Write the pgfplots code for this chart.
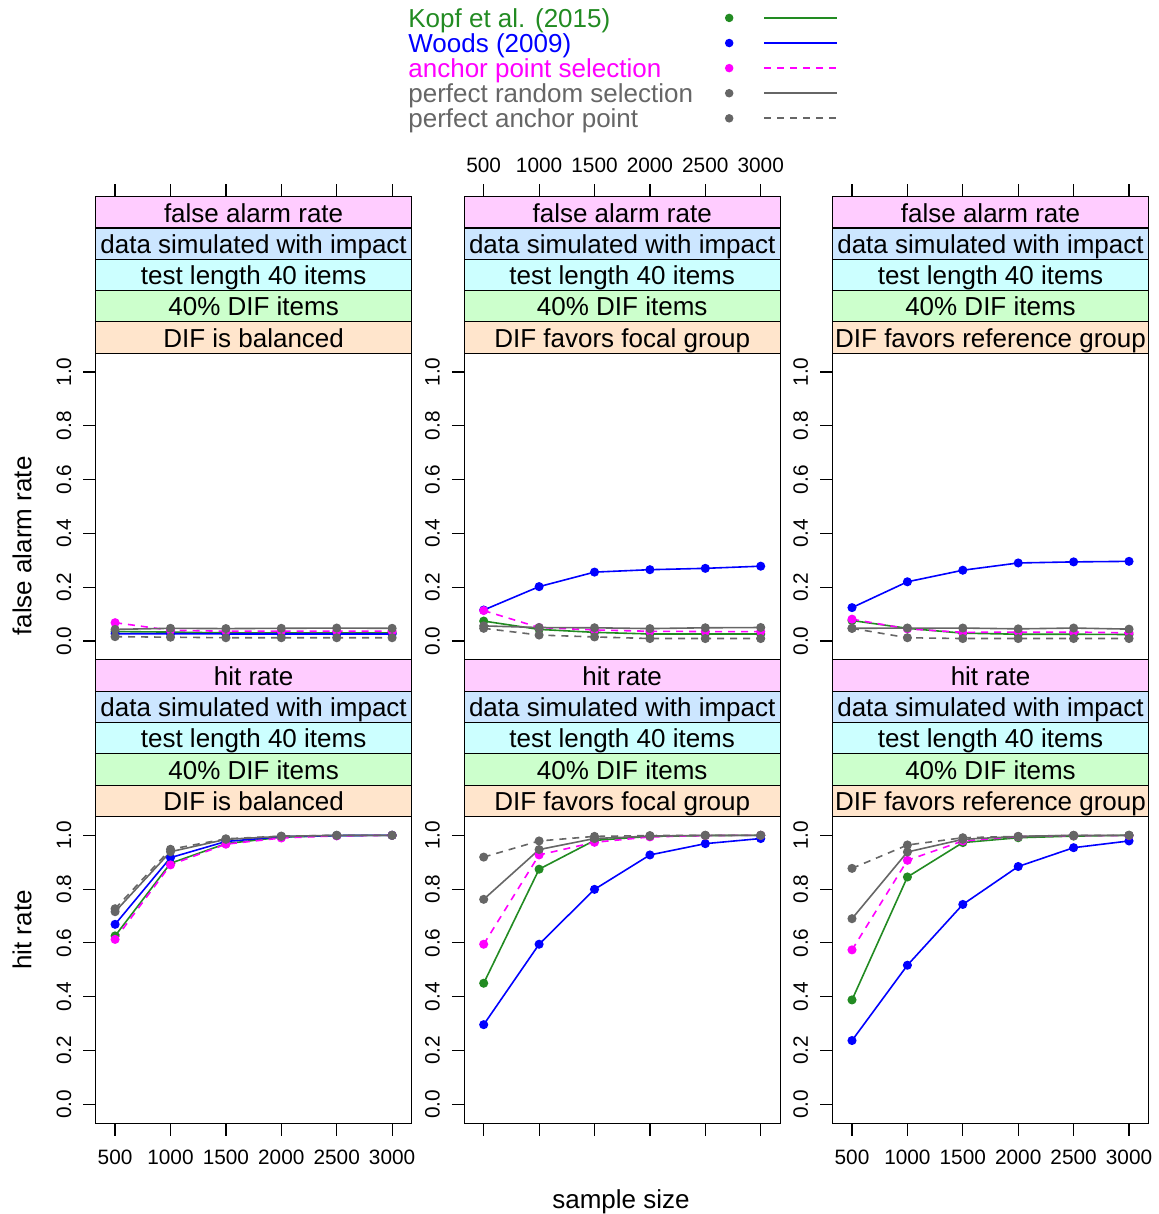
\documentclass[border=0pt]{standalone}
\usepackage{pgfplots}
\pgfplotsset{compat=1.18}
\usepackage{pgfplotstable}
\usepackage{fontspec}
\setmainfont{Liberation Sans}
\definecolor{kopf}{HTML}{228B22}
\definecolor{woods}{HTML}{0000FF}
\definecolor{anch}{HTML}{FF00FF}
\definecolor{pgray}{HTML}{666666}
\definecolor{sPink}{HTML}{FFCCFF}
\definecolor{sBlue}{HTML}{CCE6FF}
\definecolor{sCyan}{HTML}{CCFFFF}
\definecolor{sGreen}{HTML}{CCFFCC}
\definecolor{sPeach}{HTML}{FFE5CC}
\newcommand{\ticksize}{\fontsize{10.4}{12}\selectfont}
\newcommand{\stripsize}{\fontsize{13}{15}\selectfont}

% false alarm rate
\pgfplotstableread{
n kopf woods anchor prand panchor
500 0.035 0.027 0.068 0.043 0.016
1000 0.033 0.027 0.040 0.047 0.014
1500 0.030 0.026 0.036 0.046 0.012
2000 0.030 0.026 0.036 0.047 0.012
2500 0.030 0.026 0.036 0.048 0.012
3000 0.030 0.026 0.036 0.047 0.012
}\faBal
\pgfplotstableread{
n kopf woods anchor prand panchor
500 0.074 0.115 0.113 0.056 0.047
1000 0.043 0.202 0.050 0.050 0.022
1500 0.032 0.256 0.041 0.049 0.015
2000 0.026 0.265 0.036 0.046 0.009
2500 0.026 0.270 0.035 0.049 0.009
3000 0.026 0.278 0.035 0.050 0.009
}\faFoc
\pgfplotstableread{
n kopf woods anchor prand panchor
500 0.076 0.124 0.081 0.047 0.047
1000 0.047 0.220 0.045 0.048 0.012
1500 0.029 0.263 0.032 0.048 0.009
2000 0.025 0.290 0.033 0.045 0.009
2500 0.025 0.294 0.033 0.048 0.009
3000 0.024 0.296 0.030 0.044 0.009
}\faRef
% hit rate
\pgfplotstableread{
n kopf woods anchor prand panchor
500 0.626 0.669 0.613 0.716 0.727
1000 0.896 0.917 0.890 0.939 0.948
1500 0.969 0.977 0.967 0.985 0.987
2000 0.993 0.995 0.990 0.996 0.997
2500 0.999 0.999 0.998 1.000 1.000
3000 1.000 1.000 1.000 1.000 1.000
}\hrBal
\pgfplotstableread{
n kopf woods anchor prand panchor
500 0.450 0.296 0.595 0.762 0.919
1000 0.874 0.595 0.927 0.947 0.979
1500 0.981 0.799 0.974 0.988 0.996
2000 0.996 0.927 0.994 0.997 0.999
2500 0.999 0.969 0.999 1.000 1.000
3000 1.000 0.988 1.000 1.000 1.000
}\hrFoc
\pgfplotstableread{
n kopf woods anchor prand panchor
500 0.388 0.237 0.574 0.690 0.877
1000 0.845 0.517 0.907 0.938 0.964
1500 0.973 0.743 0.979 0.985 0.991
2000 0.991 0.884 0.995 0.996 0.996
2500 0.997 0.954 0.999 1.000 1.000
3000 1.000 0.979 0.999 1.000 1.000
}\hrRef

\pgfplotsset{
 panel/.style={
  scale only axis, width=157.9pt, height=231.6pt, anchor=south west,
  xmin=325, xmax=3175, ymin=-0.07, ymax=1.6522,
  xtick={500,1000,1500,2000,2500,3000},
  ytick={0,0.2,0.4,0.6,0.8,1},
  tick align=outside, major tick length=6.2pt,
  ytick pos=left,
  /pgf/number format/assume math mode=true,
  /pgf/number format/set thousands separator={},
  yticklabel style={rotate=90, anchor=south, font=\ticksize,
    /pgf/number format/fixed, /pgf/number format/fixed zerofill,
    /pgf/number format/precision=1},
  xticklabel style={font=\ticksize},
  yticklabel shift=2.5pt, xticklabel shift=3.5pt,
  every tick/.style={black, line width=0.6pt},
  axis line style={line width=0.6pt},
  axis on top, clip=false,
  every axis plot/.append style={line width=0.8pt, mark=*, mark size=1.85pt, mark options={solid}},
 },
 toprow/.style={panel, xtick pos=right, xticklabels={}},
 botrow/.style={panel, xtick pos=left},
}
\newcommand{\fivelines}[1]{%
 \addplot[kopf, forget plot] table[x=n,y=kopf]{#1};
 \addplot[woods, forget plot] table[x=n,y=woods]{#1};
 \addplot[anch, dash pattern=on 3.5pt off 3pt, forget plot] table[x=n,y=anchor]{#1};
 \addplot[pgray, forget plot] table[x=n,y=prand]{#1};
 \addplot[pgray, dash pattern=on 3.5pt off 3pt, forget plot] table[x=n,y=panchor]{#1};
}
\newcommand{\strips}[2]{%
 \draw[fill=sPeach, line width=0.6pt] (axis cs:325,1.07) rectangle (axis cs:3175,1.18644);
 \draw[fill=sGreen, line width=0.6pt] (axis cs:325,1.18644) rectangle (axis cs:3175,1.30288);
 \draw[fill=sCyan, line width=0.6pt] (axis cs:325,1.30288) rectangle (axis cs:3175,1.41932);
 \draw[fill=sBlue, line width=0.6pt] (axis cs:325,1.41932) rectangle (axis cs:3175,1.53576);
 \draw[fill=sPink, line width=0.6pt] (axis cs:325,1.53576) rectangle (axis cs:3175,1.6522);
 \node[anchor=base, font=\stripsize, yshift=-4.9pt, inner sep=0pt] at (axis cs:1750,1.12822) {#2};
 \node[anchor=base, font=\stripsize, yshift=-4.9pt, inner sep=0pt] at (axis cs:1750,1.24466) {40\% DIF items};
 \node[anchor=base, font=\stripsize, yshift=-4.9pt, inner sep=0pt] at (axis cs:1750,1.3611) {test length 40 items};
 \node[anchor=base, font=\stripsize, yshift=-4.9pt, inner sep=0pt] at (axis cs:1750,1.47754) {data simulated with impact};
 \node[anchor=base, font=\stripsize, yshift=-4.9pt, inner sep=0pt] at (axis cs:1750,1.59398) {#1};
}
\newcommand{\legsolid}[1]{\fill[#1] (0pt,1.5pt) circle (1.7pt); \draw[#1, line width=1pt, solid] (17.5pt,1.5pt) -- (54pt,1.5pt);}
\newcommand{\legdash}[1]{\fill[#1] (0pt,1.5pt) circle (1.7pt); \draw[#1, line width=1pt, dash pattern=on 3.5pt off 3pt] (17.5pt,1.5pt) -- (54pt,1.5pt);}

\begin{document}
\begin{tikzpicture}
\useasboundingbox (0,0) rectangle (579.5pt,607pt);
% top row
\begin{axis}[toprow, at={(47.85pt,277.1pt)}]
\strips{false alarm rate}{DIF is balanced}
\fivelines{\faBal}
\end{axis}
\begin{axis}[toprow, at={(232.15pt,277.1pt)}, xticklabels={500,1000,1500,2000,2500,3000}, xticklabel pos=right,
  xticklabel shift=2pt,
  legend plot pos=right, legend cell align=left,
  legend style={at={(-0.1783,1.4072)}, anchor=north west, draw=none, fill=none, inner sep=0pt,
    row sep=0pt, column sep=0pt, font=\stripsize,
    nodes={inner sep=0pt, text height=9.5pt, text depth=3.05pt}}]
\strips{false alarm rate}{DIF favors focal group}
\fivelines{\faFoc}
\addlegendimage{kopf, legend image code/.code={\legsolid{kopf}}}
\addlegendentry{\makebox[158.3pt][l]{\textcolor{kopf}{Kopf et al. (2015)}}}
\addlegendimage{woods, legend image code/.code={\legsolid{woods}}}
\addlegendentry{\makebox[158.3pt][l]{\textcolor{woods}{Woods (2009)}}}
\addlegendimage{anch, legend image code/.code={\legdash{anch}}}
\addlegendentry{\makebox[158.3pt][l]{\textcolor{anch}{anchor point selection}}}
\addlegendimage{pgray, legend image code/.code={\legsolid{pgray}}}
\addlegendentry{\makebox[158.3pt][l]{\textcolor{pgray}{perfect random selection}}}
\addlegendimage{pgray, legend image code/.code={\legdash{pgray}}}
\addlegendentry{\makebox[158.3pt][l]{\textcolor{pgray}{perfect anchor point}}}
\end{axis}
\begin{axis}[toprow, at={(416.3pt,277.1pt)}]
\strips{false alarm rate}{DIF favors reference group}
\fivelines{\faRef}
\end{axis}
% bottom row
\begin{axis}[botrow, at={(47.85pt,45.45pt)}]
\strips{hit rate}{DIF is balanced}
\fivelines{\hrBal}
\end{axis}
\begin{axis}[botrow, at={(232.15pt,45.45pt)}, xticklabels={}]
\strips{hit rate}{DIF favors focal group}
\fivelines{\hrFoc}
\end{axis}
\begin{axis}[botrow, at={(416.3pt,45.45pt)}]
\strips{hit rate}{DIF favors reference group}
\fivelines{\hrRef}
\end{axis}
\node[rotate=90, font=\stripsize] at (11pt,334pt) {false alarm rate};
\node[rotate=90, font=\stripsize] at (11pt,142pt) {hit rate};
\node[font=\stripsize] at (310.5pt,6pt) {sample size};
\end{tikzpicture}
\end{document}
